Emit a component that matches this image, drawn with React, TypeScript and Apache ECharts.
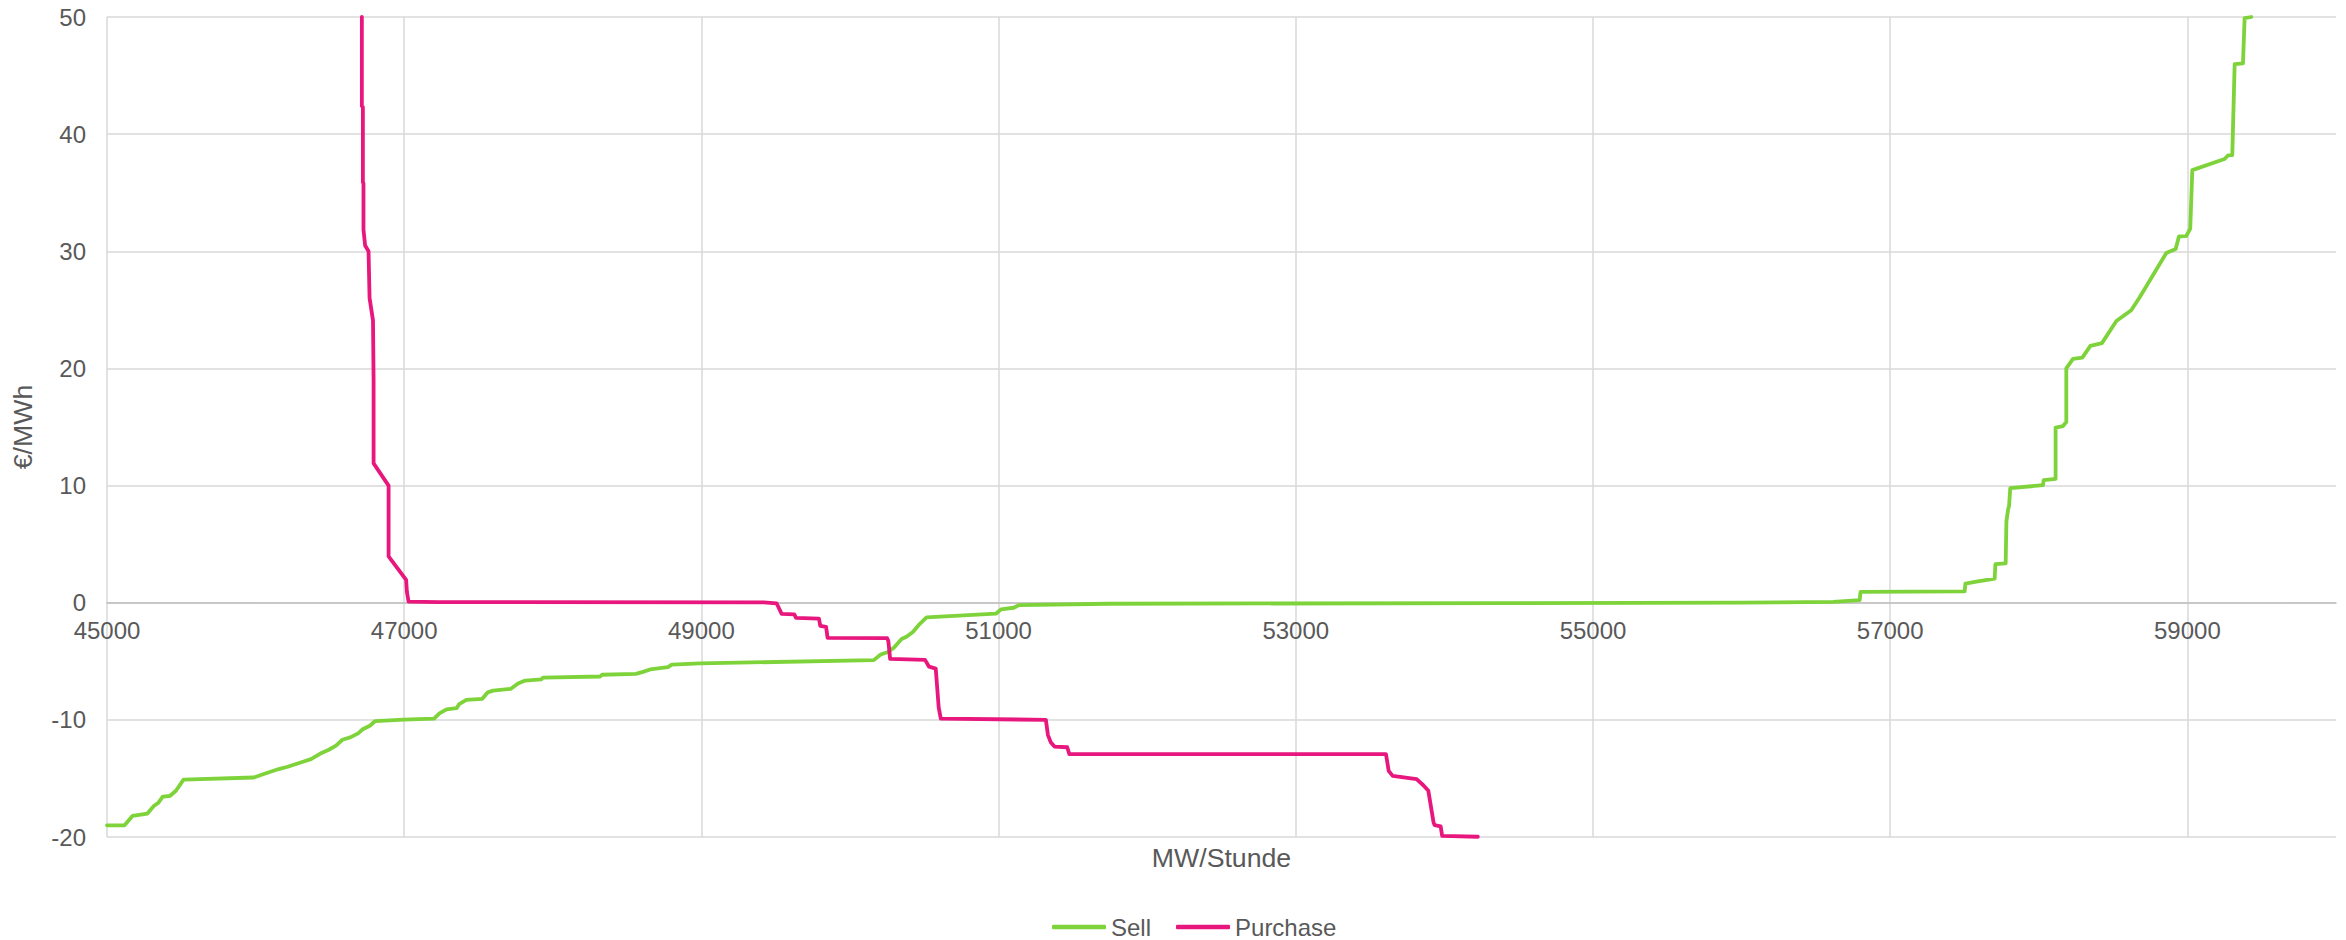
import React, { useEffect, useRef } from "react";
import * as echarts from "echarts";

// Supply (Sell) curve: MW/Stunde and €/MWh
const sellMW = [
  45000, 45118, 45171, 45272, 45315, 45344, 45375, 45423, 45464, 45515,
  45988, 46060, 46156, 46216, 46324, 46373, 46433, 46493, 46541, 46584,
  46637, 46690, 46721, 46769, 46805, 46997, 47201, 47237, 47285, 47353,
  47370, 47418, 47526, 47562, 47598, 47718, 47766, 47814, 47922, 47934,
  48319, 48331, 48559, 48607, 48655, 48775, 48801, 48991, 50160, 50207,
  50256, 50295, 50347, 50380, 50423, 50470, 50515, 50982, 51016, 51102,
  51136, 51737, 54373, 56000, 56616, 56795, 56800, 57501, 57506, 57580,
  57703, 57708, 57777, 57782, 57793, 57800, 57808, 58028, 58033, 58113,
  58113, 58163, 58185, 58185, 58230, 58293, 58347, 58425, 58522, 58622,
  58679, 58858, 58921, 58943, 58992, 59019, 59033, 59250, 59273, 59302,
  59318, 59374, 59385, 59430,
];
const sellPrice = [
  -19, -19, -18.2, -18.0, -17.35, -17.1, -16.55, -16.5, -16.05, -15.1,
  -14.92, -14.6, -14.2, -14.0, -13.55, -13.35, -12.9, -12.55, -12.2, -11.7,
  -11.5, -11.15, -10.8, -10.5, -10.1, -9.98, -9.9, -9.45, -9.1, -9.0,
  -8.65, -8.3, -8.2, -7.65, -7.5, -7.35, -6.9, -6.65, -6.55, -6.4,
  -6.3, -6.15, -6.08, -5.9, -5.7, -5.5, -5.28, -5.18, -4.9, -4.42,
  -4.21, -3.84, -3.1, -2.9, -2.5, -1.8, -1.25, -0.94, -0.57, -0.43,
  -0.2, -0.09, -0.03, 0.0, 0.08, 0.22, 0.93, 0.97, 1.63, 1.8,
  2.05, 3.3, 3.35, 6.93, 7.94, 8.28, 9.79, 10.03, 10.47, 10.57,
  14.95, 15.08, 15.42, 20.0, 20.82, 20.92, 21.93, 22.16, 24.05, 24.96,
  26.08, 29.85, 30.19, 31.27, 31.3, 31.94, 36.93, 37.88, 38.18, 38.21,
  45.97, 46.04, 49.9, 50.0,
];

// Demand (Purchase) curve
const purchaseMW = [
  46715, 46715, 46722, 46722, 46726, 46726, 46737, 46760, 46767, 46790,
  46794, 46794, 46895, 46895, 47013, 47018, 47029, 47230, 49419, 49506,
  49540, 49625, 49637, 49791, 49800, 49839, 49849, 50250, 50258, 50270,
  50505, 50532, 50577, 50597, 50611, 51318, 51332, 51352, 51376, 51462,
  51476, 53607, 53625, 53652, 53813, 53858, 53892, 53927, 53934, 53975,
  53985, 54225,
];
const purchasePrice = [
  50, 42.4, 42.3, 35.9, 35.8, 31.85, 30.5, 30.0, 26.0, 24.1,
  19.0, 11.9, 10.0, 3.95, 1.95, 0.95, 0.1, 0.05, 0.03, -0.05,
  -0.95, -1.0, -1.3, -1.35, -1.97, -2.06, -3.0, -3.03, -3.27, -4.8,
  -4.88, -5.46, -5.63, -8.95, -9.89, -10.0, -11.3, -11.94, -12.28, -12.34,
  -12.93, -12.93, -14.35, -14.78, -15.06, -15.58, -16.06, -18.76, -18.99, -19.1,
  -19.9, -19.98,
];

const seriesNames = ["Sell", "Purchase"];
const xAxisTitle = "MW/Stunde";
const yAxisTitle = "€/MWh";

const FONT = "'Liberation Sans', Arial, sans-serif";
const TEXT = "#595959";

const GRID_TOP = 17;
const GRID_BOTTOM = 103;
const CHART_H = 940;
const Y_MIN = -20;
const Y_MAX = 50;

export default function App() {
  const ref = useRef<HTMLDivElement>(null);
  useEffect(() => {
    if (!ref.current) return;
    const chart = echarts.init(ref.current, null, { renderer: "svg" });
    const sellData = sellMW.map((x, i) => [x, sellPrice[i]]);
    const purchaseData = purchaseMW.map((x, i) => [x, purchasePrice[i]]);
    // shift the category axis up so it sits on the value 0
    const plotH = CHART_H - GRID_TOP - GRID_BOTTOM;
    const zeroOffset = -((0 - Y_MIN) / (Y_MAX - Y_MIN)) * plotH;
    chart.setOption({
      animation: false,
      backgroundColor: "#ffffff",
      textStyle: { fontFamily: FONT },
      grid: {
        left: 107,
        right: 10,
        top: GRID_TOP,
        bottom: GRID_BOTTOM,
        containLabel: false,
        outerBoundsMode: "none",
      },
      legend: {
        data: seriesNames,
        left: 1052,
        top: 915,
        padding: 0,
        icon: "roundRect",
        itemWidth: 54,
        itemHeight: 4.5,
        itemGap: 25,
        textStyle: { fontSize: 24, color: TEXT, fontFamily: FONT },
      },
      xAxis: {
        type: "value",
        min: 45000,
        max: 60000,
        interval: 2000,
        offset: zeroOffset,
        name: xAxisTitle,
        nameLocation: "middle",
        nameGap: 242,
        nameTextStyle: { fontSize: 26.7, color: TEXT, fontFamily: FONT },
        axisLine: { show: true, onZero: false, lineStyle: { color: "#BFBFBF", width: 1.5 } },
        axisTick: { show: false },
        axisLabel: {
          fontSize: 24,
          color: TEXT,
          margin: 16,
          showMaxLabel: false,
          formatter: (v: number) => (v >= 60000 ? "" : String(v)),
        },
        splitLine: { show: true, showMaxLine: false, lineStyle: { color: "#D9D9D9", width: 1.5 } },
      },
      yAxis: {
        type: "value",
        min: Y_MIN,
        max: Y_MAX,
        interval: 10,
        name: yAxisTitle,
        nameLocation: "middle",
        nameGap: 71,
        nameTextStyle: { fontSize: 26.7, color: TEXT, fontFamily: FONT },
        axisLine: { show: false },
        axisTick: { show: false },
        axisLabel: { fontSize: 24, color: TEXT, margin: 21 },
        splitLine: { show: true, lineStyle: { color: "#D9D9D9", width: 1.5 } },
      },
      series: [
        {
          name: seriesNames[0],
          type: "line",
          data: sellData,
          symbol: "none",
          color: "#7ED33B",
          lineStyle: { width: 3.8, color: "#7ED33B", cap: "round", join: "round" },
        },
        {
          name: seriesNames[1],
          type: "line",
          data: purchaseData,
          symbol: "none",
          color: "#E8177D",
          lineStyle: { width: 3.8, color: "#E8177D", cap: "round", join: "round" },
        },
      ],
    });
    return () => chart.dispose();
  }, []);
  return (
    <div
      ref={ref}
      style={{ position: "fixed", left: 0, top: 0, width: 2346, height: 940, background: "#fff" }}
    />
  );
}
